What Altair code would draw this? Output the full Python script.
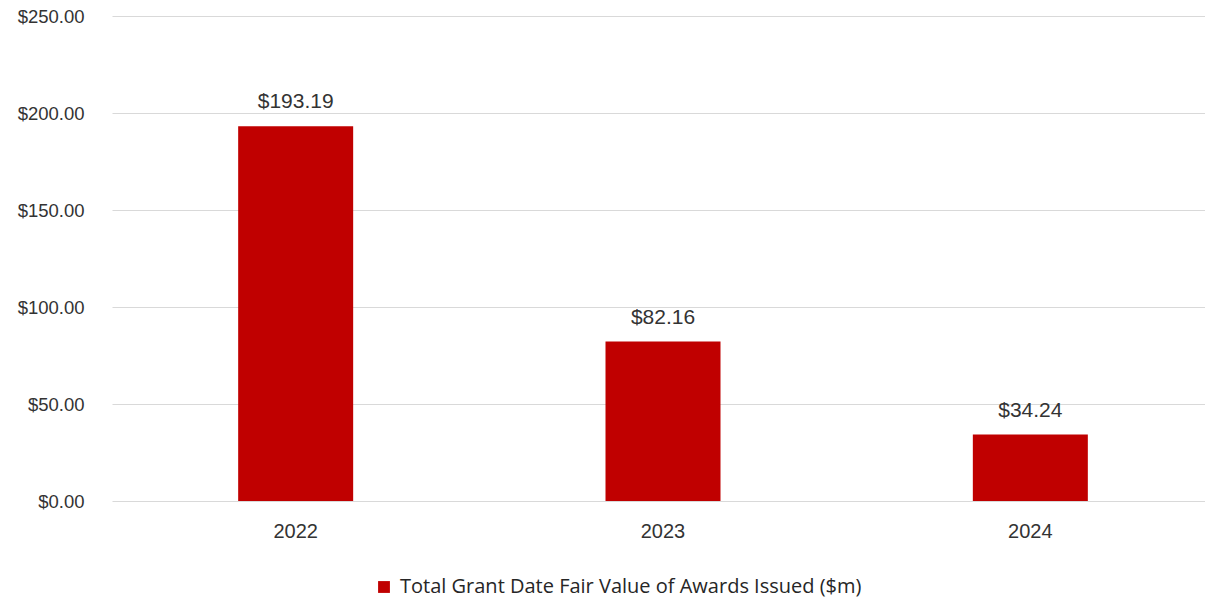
import altair as alt
import pandas as pd

years = ["2022", "2023", "2024"]
values = [193.19, 82.16, 34.24]
series = "Total Grant Date Fair Value of Awards Issued ($m)"

df = pd.DataFrame({"year": years, "value": values, "series": [series] * 3})
df["label"] = ["$" + f"{v:.2f}" for v in values]

x = alt.X("year:N", title=None,
          scale=alt.Scale(paddingInner=0, paddingOuter=0, range=[0, 1102]),
          axis=alt.Axis(labelAngle=0, labelFontSize=20, labelColor="#333333",
                        labelFont="Liberation Sans", ticks=False, domain=False,
                        labelPadding=20, grid=False))
y = alt.Y("value:Q", title=None,
          scale=alt.Scale(domain=[0, 250], nice=False),
          axis=alt.Axis(values=[0, 50, 100, 150, 200, 250], format="$.2f",
                        labelFontSize=18.5, labelColor="#333333", labelFont="Liberation Sans",
                        ticks=False, domain=False, labelPadding=28,
                        gridColor="#d9d9d9", gridWidth=1))

bars = alt.Chart(df).mark_bar(size=115).encode(
    x=x, y=y,
    color=alt.Color("series:N", title=None,
                    scale=alt.Scale(range=["#c00000"]),
                    legend=alt.Legend(orient="none", legendX=262, legendY=561,
                                      symbolType="square", symbolSize=140,
                                      symbolStrokeWidth=0, labelOffset=6,
                                      labelFontSize=20, labelColor="#262626",
                                      labelFont="Open Sans", labelLimit=700))
)

text = alt.Chart(df).mark_text(baseline="alphabetic", dy=-18, fontSize=21,
                               font="Liberation Sans", color="#333333").encode(
    x="year:N", y="value:Q", text="label:N"
)

chart = (bars + text).properties(
    width=1093, height=485,
    background="white",
    autosize=alt.AutoSizeParams(type="none"),
    padding={"left": 112, "top": 16, "right": 0, "bottom": 100},
).configure_view(strokeWidth=0, stroke="transparent")

chart.save("out.html", embed_options={"renderer": "svg", "actions": False})
